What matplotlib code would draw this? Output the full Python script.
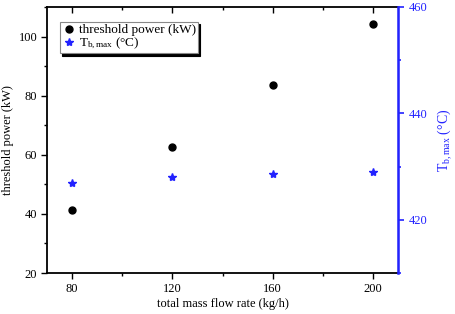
import matplotlib.pyplot as plt
from matplotlib.ticker import MultipleLocator

plt.rcParams['font.family'] = ['Liberation Serif', 'DejaVu Serif']
plt.rcParams['mathtext.fontset'] = 'custom'
plt.rcParams['mathtext.rm'] = 'Liberation Serif'
plt.rcParams['mathtext.it'] = 'Liberation Serif'

flow_rate = [80, 120, 160, 200]
threshold_power = [41.4, 62.6, 83.6, 104.2]
tb_max = [427.0, 428.1, 428.7, 428.9]

blue = '#2222ff'

fig = plt.figure(figsize=(4.56, 3.14), dpi=100)
ax = fig.add_axes([47 / 456, 1 - 273 / 314, 351 / 456, 266 / 314])
ax2 = ax.twinx()

p1, = ax.plot(flow_rate, threshold_power, 'o', color='black', markersize=5,
              label='threshold power (kW)')
p2, = ax2.plot(flow_rate, tb_max, '*', color=blue, markersize=6,
               label=r'T$_{\rm b,max}$ (°C)')

ax.set_xlim(70, 210)
ax.set_ylim(20, 110)
ax2.set_ylim(410, 460)

ax.xaxis.set_major_locator(MultipleLocator(40))
ax.xaxis.set_minor_locator(MultipleLocator(20))
ax.yaxis.set_major_locator(MultipleLocator(20))
ax.yaxis.set_minor_locator(MultipleLocator(10))
ax2.yaxis.set_major_locator(MultipleLocator(20))
ax2.yaxis.set_minor_locator(MultipleLocator(10))

ax.tick_params(axis='both', which='major', direction='out', length=4, width=1,
               labelsize=9, top=True, pad=3)
ax.tick_params(axis='both', which='minor', direction='out', length=2, width=1,
               top=True)
ax2.tick_params(axis='y', which='major', direction='out', length=4, width=1.2,
                colors=blue, labelsize=9)
ax2.tick_params(axis='y', which='minor', direction='out', length=2, width=1.2,
                colors=blue)

# top ticks point inward
for t in ax.xaxis.get_major_ticks() + ax.xaxis.get_minor_ticks():
    t.tick2line.set_marker(3)

for s in ['left', 'bottom', 'top']:
    ax.spines[s].set_linewidth(1.3)
ax2.spines['right'].set_color(blue)
ax2.spines['right'].set_linewidth(1.8)
for s in ['left', 'bottom', 'top']:
    ax2.spines[s].set_visible(False)

ax.set_xlabel('total mass flow rate (kg/h)', fontsize=9, labelpad=2)
ax.set_ylabel('threshold power (kW)', fontsize=9, labelpad=3)
ax2.set_ylabel(r'T$_{\rm b,max}$ (°C)', fontsize=10, color=blue, labelpad=6)

leg = ax.legend(handles=[p1, p2], loc='upper left', bbox_to_anchor=(0.037, 0.943),
                fontsize=9.5, frameon=True, fancybox=False,
                shadow={'color': 'black', 'alpha': 1, 'ox': 1.5, 'oy': -1.5},
                handletextpad=0.3, handlelength=1.0, borderpad=0.15,
                labelspacing=0.0, borderaxespad=0)
leg.get_frame().set_edgecolor('#888888')
leg.get_frame().set_linewidth(0.8)

fig.savefig('out.png', dpi=100)
